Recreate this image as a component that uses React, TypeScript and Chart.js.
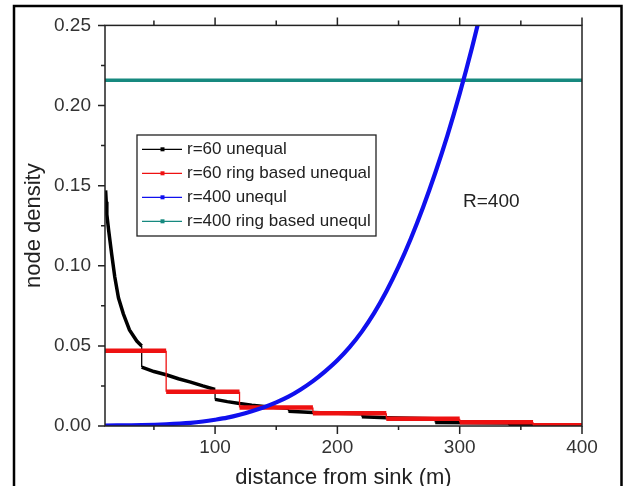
import React, { useEffect, useRef } from "react";
import { Chart, registerables } from "chart.js";

Chart.register(...registerables);

// ---------- data ----------
const seriesLabels = [
  "r=60 unequal",
  "r=60 ring based unequal",
  "r=400 unequl",
  "r=400 ring based unequl",
];
const seriesColors = ["#000000", "#ee1111", "#1010ee", "#16897f"];

const blackX = [10.5, 11, 11.5, 13, 15.5, 18, 21, 25, 30, 36, 40, 40, 50, 60, 70, 80, 90, 100, 100, 110, 120, 130, 140, 150, 160, 160, 180, 200, 220, 220, 240, 260, 280, 280, 310, 340, 340, 360];
const blackY = [0.147, 0.14, 0.132, 0.122, 0.107, 0.093, 0.08, 0.07, 0.06, 0.053, 0.05, 0.0368, 0.034, 0.032, 0.0295, 0.0274, 0.025, 0.0228, 0.0166, 0.0152, 0.014, 0.013, 0.0122, 0.0115, 0.011, 0.0092, 0.0085, 0.008, 0.0076, 0.0058, 0.0052, 0.0048, 0.0045, 0.0022, 0.002, 0.0018, 0.0006, 0.0005];

const redX = [10, 60, 60, 120, 120, 180, 180, 240, 240, 300, 300, 360, 360, 400];
const redY = [0.047, 0.047, 0.0213, 0.0213, 0.0116, 0.0116, 0.0079, 0.0079, 0.0046, 0.0046, 0.0023, 0.0023, 0.0004, 0.0004];

const blueX = [10, 40, 60, 80, 90, 100, 110, 120, 130, 140, 150, 160, 170, 180, 190, 200, 210, 220, 230, 240, 250, 260, 270, 280, 290, 300, 310, 320];
const blueY = [0.0003, 0.0006, 0.0011, 0.002, 0.0028, 0.0039, 0.0052, 0.007, 0.0092, 0.0117, 0.0147, 0.0183, 0.0228, 0.028, 0.0341, 0.041, 0.0492, 0.0589, 0.0704, 0.0839, 0.0994, 0.1169, 0.1364, 0.1579, 0.1814, 0.2074, 0.2359, 0.2669];

const tealX = [10, 400];
const tealY = [0.2157, 0.2157];

const xMajorTicks = [100, 200, 300, 400];
const xMinorTicks = [50, 150, 250, 350];
const yMajorTicks = [0, 0.05, 0.1, 0.15, 0.2, 0.25];
const yMinorTicks = [0.025, 0.075, 0.125, 0.175, 0.225];

const xTitle = "distance from sink (m)";
const yTitle = "node density";
const annotationText = "R=400";

const FONT = "'Liberation Sans', Arial, Helvetica, sans-serif";

function pts(xs: number[], ys: number[]) {
  return xs.map((x, i) => ({ x, y: ys[i] }));
}

const decorPlugin = {
  id: "decor",
  afterDraw(chart: any) {
    const { ctx, chartArea: a, scales } = chart;
    const xs = scales.x;
    const ys = scales.y;
    ctx.save();

    // plot box
    ctx.strokeStyle = "#222";
    ctx.lineWidth = 1.5;
    ctx.strokeRect(a.left, a.top, a.right - a.left, a.bottom - a.top);

    // tick marks
    ctx.beginPath();
    for (const v of xMajorTicks) {
      const px = xs.getPixelForValue(v);
      ctx.moveTo(px, a.bottom);
      ctx.lineTo(px, a.bottom + 8);
      ctx.moveTo(px, a.top);
      ctx.lineTo(px, a.top - 8);
    }
    for (const v of xMinorTicks) {
      const px = xs.getPixelForValue(v);
      ctx.moveTo(px, a.bottom);
      ctx.lineTo(px, a.bottom + 4);
      ctx.moveTo(px, a.top);
      ctx.lineTo(px, a.top - 5);
    }
    for (const v of yMajorTicks) {
      const py = ys.getPixelForValue(v);
      ctx.moveTo(a.left, py);
      ctx.lineTo(a.left - 7, py);
    }
    for (const v of yMinorTicks) {
      const py = ys.getPixelForValue(v);
      ctx.moveTo(a.left, py);
      ctx.lineTo(a.left - 4, py);
    }
    ctx.stroke();

    // outer frame
    ctx.strokeStyle = "#000";
    ctx.lineWidth = 2.5;
    ctx.beginPath();
    ctx.moveTo(14, 520);
    ctx.lineTo(14, 6);
    ctx.lineTo(621.5, 6);
    ctx.lineTo(621.5, 520);
    ctx.stroke();

    // legend
    const lx = 137, ly = 135, lw = 239, lh = 101;
    ctx.fillStyle = "#fff";
    ctx.fillRect(lx, ly, lw, lh);
    ctx.strokeStyle = "#222";
    ctx.lineWidth = 1.3;
    ctx.strokeRect(lx, ly, lw, lh);
    ctx.font = `17px ${FONT}`;
    ctx.textBaseline = "middle";
    ctx.textAlign = "left";
    seriesLabels.forEach((label, i) => {
      const cy = 149.3 + i * 24;
      ctx.strokeStyle = seriesColors[i];
      ctx.lineWidth = 1.2;
      ctx.beginPath();
      ctx.moveTo(142, cy);
      ctx.lineTo(182, cy);
      ctx.stroke();
      ctx.fillStyle = seriesColors[i];
      ctx.fillRect(160.5, cy - 2, 4, 4);
      ctx.fillStyle = "#222";
      ctx.fillText(label, 187, cy + 0.5);
    });

    // annotation
    ctx.fillStyle = "#222";
    ctx.font = `19px ${FONT}`;
    ctx.textAlign = "left";
    ctx.fillText(annotationText, 463, 202);

    ctx.restore();
  },
};

export default function App() {
  const ref = useRef<HTMLCanvasElement | null>(null);

  useEffect(() => {
    if (!ref.current) return;
    const thinVertical = (w: number) => (ctx: any) =>
      ctx.p0.parsed.x === ctx.p1.parsed.x ? 1.3 : w;

    const chart = new Chart(ref.current, {
      type: "line",
      data: {
        datasets: [
          {
            label: seriesLabels[0],
            data: pts(blackX, blackY),
            borderColor: seriesColors[0],
            borderWidth: 3.5,
            pointRadius: 0,
            order: 3,
            segment: { borderWidth: thinVertical(3.5) },
          },
          {
            label: seriesLabels[1],
            data: pts(redX, redY),
            borderColor: seriesColors[1],
            borderWidth: 4.5,
            pointRadius: 0,
            order: 2,
            segment: { borderWidth: thinVertical(4.5) },
          },
          {
            label: seriesLabels[2],
            data: pts(blueX, blueY),
            borderColor: seriesColors[2],
            borderWidth: 4.2,
            pointRadius: 0,
            cubicInterpolationMode: "monotone",
            order: 1,
          },
          {
            label: seriesLabels[3],
            data: pts(tealX, tealY),
            borderColor: seriesColors[3],
            borderWidth: 3.5,
            pointRadius: 0,
            order: 4,
          },
        ],
      },
      options: {
        animation: false,
        responsive: false,
        devicePixelRatio: 1,
        layout: { padding: { left: 0, top: 23, right: 41, bottom: 0 } },
        plugins: { legend: { display: false }, tooltip: { enabled: false } },
        scales: {
          x: {
            type: "linear",
            position: "bottom",
            min: 10,
            max: 400,
            afterBuildTicks: (s: any) => {
              s.ticks = xMajorTicks.map((v) => ({ value: v }));
            },
            afterFit: (s: any) => {
              s.height = 74;
            },
            grid: { display: false, drawTicks: false },
            border: { display: false },
            ticks: {
              font: { family: FONT, size: 19 },
              color: "#333",
              padding: 10.6,
              maxRotation: 0,
              autoSkip: false,
              callback: (v: any) => String(v),
            },
            title: {
              display: true,
              text: xTitle,
              font: { family: FONT, size: 22 },
              color: "#222",
              padding: { top: 0, bottom: 9 },
            },
          },
          y: {
            type: "linear",
            min: 0,
            max: 0.25,
            afterBuildTicks: (s: any) => {
              s.ticks = yMajorTicks.map((v) => ({ value: v }));
            },
            afterFit: (s: any) => {
              s.width = 105;
            },
            grid: { display: false, drawTicks: false },
            border: { display: false },
            ticks: {
              font: { family: FONT, size: 19 },
              color: "#333",
              padding: 14,
              autoSkip: false,
              callback: (v: any) => Number(v).toFixed(2),
            },
            title: {
              display: true,
              text: yTitle,
              font: { family: FONT, size: 22 },
              color: "#222",
              padding: { top: 21, bottom: 0 },
            },
          },
        },
      } as any,
      plugins: [decorPlugin],
    });
    return () => chart.destroy();
  }, []);

  return (
    <div
      style={{
        position: "fixed",
        left: 0,
        top: 0,
        width: 623,
        height: 486,
        overflow: "hidden",
        background: "#fff",
      }}
    >
      <canvas
        ref={ref}
        width={623}
        height={500}
        style={{ display: "block", width: 623, height: 500 }}
      />
    </div>
  );
}
